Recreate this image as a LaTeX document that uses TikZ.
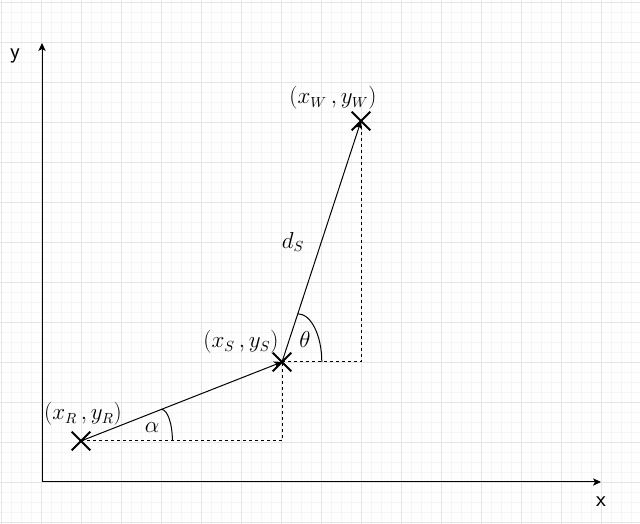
\documentclass[tikz,border=0pt]{standalone}
\usepackage{amsmath}
\usepackage{tikz}
\usepackage{xcolor}
\usetikzlibrary{shapes.misc, arrows.meta, calc}
\definecolor{cGridMinor}{RGB}{245,245,245}
\definecolor{cGridMajor}{RGB}{228,228,228}
\tikzset{
	gridminor/.style={draw=cGridMinor, line width=0.75pt},
	gridmajor/.style={draw=cGridMajor, line width=0.75pt},
	axis/.style={-{Stealth[length=6pt, width=5.5pt, inset=1.5pt]}, line width=0.75pt},
	vec/.style={-{Stealth[length=6pt, width=5.5pt, inset=1.5pt]}, line width=0.75pt},
	helper/.style={line width=0.75pt, dash pattern=on 2.25pt off 2.25pt},
	anglearc/.style={line width=0.75pt},
	xmark/.style={cross out, draw=black, line width=1.5pt, minimum size=12.5pt, inner sep=0pt},
	% text helpers
	lbl/.style={font=\fontsize{16}{19}\selectfont, inner sep=0pt},
	axlbl/.style={font=\sffamily\fontsize{17}{20}\selectfont, inner sep=0pt},
}
\begin{document}
\begin{tikzpicture}[x=0.75pt, y=0.75pt]
	\useasboundingbox (0,0) rectangle (640,524);
	% background grid
	\foreach \i in {0,...,63} \draw[gridminor] ({\i*10+1.6},0) -- ({\i*10+1.6},524);
	\foreach \j in {0,...,52} \draw[gridminor] (0,{\j*10+1.5}) -- (640,{\j*10+1.5});
	\foreach \i in {0,...,15} \draw[gridmajor] ({\i*40+1.6},0) -- ({\i*40+1.6},524);
	\foreach \j in {0,...,13} \draw[gridmajor] (0,{\j*40+1.5}) -- (640,{\j*40+1.5});

	% axes
	\coordinate (O) at (42,42);
	\coordinate (yEnd) at (42,481);
	\coordinate (xEnd) at (601,42);
	\draw[axis] (O) -- (yEnd);
	\draw[axis] (O) -- (xEnd);
	\node[axlbl] (lblY) at (15,468) {y};
	\node[axlbl] (lblX) at (601,22) {x};

	% points
	\node[xmark] (pR) at (81,83) {};
	\node[xmark] (pS) at (282,162) {};
	\node[xmark] (pW) at (361,403) {};
	\coordinate (cR) at (282,83);
	\coordinate (cS) at (361,162);

	\draw[helper] (pR.center) -- (cR) -- (pS.center);
	\draw[helper] (pS.center) -- (cS) -- (pW.center);
	\draw[vec] (pR.center) -- (pS.center);
	\draw[vec] (pS.center) -- (pW.center);

	% angles
	\coordinate (aAlpha) at ($(pR.center)!0.4!(pS.center)$);
	\coordinate (aTheta) at ($(pS.center)!0.2!(pW.center)$);
	\draw[anglearc] (aAlpha) arc[start angle=90, end angle=0, x radius=11, y radius=31.6];
	\draw[anglearc] (aTheta) arc[start angle=90, end angle=0, x radius=24, y radius=48.2];

	\node[lbl] (lblR) at (83,110) {$(x_R\,,y_R)$};
	\node[lbl] (lblS) at (241,182) {$(x_S\,,y_S)$};
	\node[lbl] (lblW) at (333,426) {$(x_W\,,y_W)$};
	\node[lbl] (lblAlpha) at (152,96) {$\alpha$};
	\node[lbl] (lblTheta) at (305,184) {$\theta$};
	\node[lbl] (lblD) at (293,282) {$d_S$};
\end{tikzpicture}
\end{document}
